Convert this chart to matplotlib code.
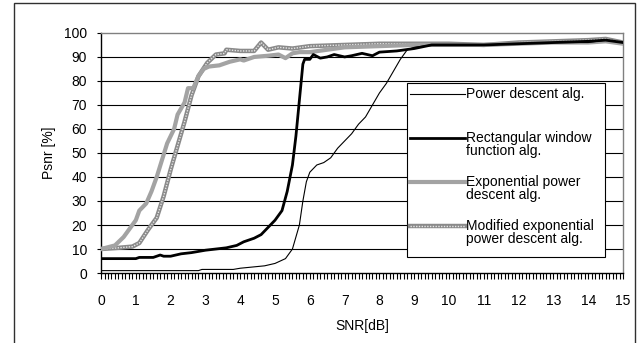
import matplotlib
matplotlib.use('Agg')
from matplotlib import pyplot as plt
from matplotlib.patches import Rectangle
from matplotlib.lines import Line2D
import numpy as np

plt.rcParams['font.family'] = ['Liberation Sans', 'DejaVu Sans']

# Okunan veriler
power_x = [0, 2.8, 2.9, 3.8, 4.0, 4.7, 5.0, 5.3, 5.5, 5.6, 5.7, 5.8, 5.9, 6.0, 6.2, 6.4, 6.6, 6.8,
           7.0, 7.2, 7.4, 7.6, 7.8, 8.0, 8.2, 8.4, 8.6, 8.8, 9.0, 9.5, 10, 11, 12, 13, 14, 14.5, 15]
power_y = [1, 1, 1.5, 1.5, 2, 3, 4, 6, 10, 15, 20, 30, 38, 42, 45, 46, 48, 52,
           55, 58, 62, 65, 70, 75, 79, 84, 89, 93, 94, 95, 95, 95, 95.5, 96, 96, 97, 96]

rect_x = [0, 1.0, 1.1, 1.5, 1.7, 1.8, 2.0, 2.3, 2.6, 3.0, 3.3, 3.6, 3.9, 4.1, 4.4, 4.6, 4.8, 5.0,
          5.2, 5.35, 5.5, 5.6, 5.7, 5.8, 5.85, 6.0, 6.1, 6.3, 6.5, 6.7, 7.0, 7.2, 7.5, 7.8, 8.0,
          8.5, 9.0, 9.5, 10, 11, 12, 13, 14, 14.5, 15]
rect_y = [6, 6, 6.5, 6.5, 7.5, 7, 7, 8, 8.5, 9.5, 10, 10.5, 11.5, 13, 14.5, 16, 19, 22,
          26, 34, 45, 57, 72, 87, 89, 89, 91, 89.5, 90, 91, 90, 90.5, 91.5, 90.5, 92,
          92.5, 93.5, 95, 95, 95, 95.5, 96, 96.5, 97, 96]

exp_x = [0, 0.4, 0.65, 0.9, 1.0, 1.1, 1.3, 1.45, 1.6, 1.75, 1.9, 2.1, 2.2, 2.4, 2.5, 2.65, 2.8,
         2.95, 3.1, 3.4, 3.7, 4.0, 4.1, 4.4, 4.8, 5.1, 5.3, 5.5, 5.7, 6.0, 6.5, 7, 8, 9, 10,
         11, 12, 13, 14, 14.5, 15]
exp_y = [10, 11.5, 15, 20, 22, 26, 29, 34, 40, 47, 54, 60, 66, 71, 77, 77, 82,
         85, 86, 86.5, 88, 89, 88.5, 90, 90.5, 91, 89.5, 91.5, 92, 92, 93, 94, 94.5, 95, 95,
         95, 95.5, 96, 96, 96.5, 95.5]

mod_x = [0, 0.5, 0.9, 1.1, 1.35, 1.6, 1.8, 2.0, 2.2, 2.4, 2.6, 2.8, 3.05, 3.3, 3.55, 3.6, 4.0,
         4.4, 4.6, 4.8, 5.1, 5.5, 6.0, 7.0, 8.0, 9, 10, 11, 12, 13, 14, 14.5, 15]
mod_y = [10, 10.5, 11, 12.5, 18, 23, 32, 43, 53, 63, 74, 82, 87.5, 91, 91.5, 93, 92.5,
         92.5, 96, 93, 94, 93.5, 94.5, 95, 95.5, 95.5, 95.5, 95, 96, 96.5, 97, 97.5, 96]

labels = ['Power descent alg.', 'Rectangular window\nfunction alg.',
          'Exponential power\ndescent alg.', 'Modified exponential\npower descent alg.']

fig = plt.figure(figsize=(6.41, 3.43), dpi=100)
ax = fig.add_axes([0.1576, 0.204, 0.8144, 0.700])

# dış çerçeve
fig.patches.append(Rectangle((14 / 641, -0.01), 621 / 641, 1 - 3 / 343 + 0.01,
                             transform=fig.transFigure, fill=False, edgecolor='#303030', lw=1))

ax.plot(power_x, power_y, color='black', lw=0.8, zorder=5)
ax.plot(rect_x, rect_y, color='black', lw=2.0, zorder=5)
ax.plot(exp_x, exp_y, color='#a3a3a3', lw=3.0, zorder=4)
ax.plot(mod_x, mod_y, color='#8a8a8a', lw=3.2, zorder=3)
ax.plot(mod_x, mod_y, color='#e6e6e6', lw=1.0, ls=(0, (1, 1)), zorder=3)

ax.set_xlim(0, 15)
ax.set_ylim(0, 100)
ax.set_xticks(range(16))
ax.set_xticks(np.arange(0, 15.01, 0.1), minor=True)
ax.set_yticks(range(0, 101, 10))
ax.tick_params(axis='x', which='both', direction='out', length=4, width=0.8, pad=11, labelsize=10)
ax.tick_params(axis='y', direction='out', length=3, width=0.8, pad=7, labelsize=10)

for v in range(10, 100, 10):
    ax.axhline(v, color='black', lw=0.8, zorder=1)

ax.spines['top'].set_color('#808080')
ax.spines['right'].set_color('#808080')
for s in ax.spines.values():
    s.set_linewidth(1.0)

ax.set_ylabel('Psnr [%]', fontsize=10, labelpad=6)
ax.set_xlabel('SNR[dB]', fontsize=10, labelpad=8)

# lejant (Excel tarzı)
ax.add_patch(Rectangle((0.586, 0.0667), 0.3795, 0.7253, transform=ax.transAxes,
                       facecolor='white', edgecolor='black', lw=0.8, zorder=8))
entry_y = [0.746, 0.5625, 0.379, 0.196]
styles = [dict(color='black', lw=0.8), dict(color='black', lw=2.0),
          dict(color='#a3a3a3', lw=3.0), dict(color='#8a8a8a', lw=3.2)]
for y, lab, st in zip(entry_y, labels, styles):
    ax.add_line(Line2D([0.592, 0.697], [y, y], transform=ax.transAxes, zorder=9, **st))
    ax.text(0.699, y + 0.03, lab, transform=ax.transAxes, va='top', ha='left',
            fontsize=10, linespacing=0.95, zorder=9)
ax.add_line(Line2D([0.592, 0.697], [0.196, 0.196], transform=ax.transAxes, zorder=9,
                   color='#e6e6e6', lw=1.0, ls=(0, (1, 1))))

plt.savefig('out.png', dpi=100)
